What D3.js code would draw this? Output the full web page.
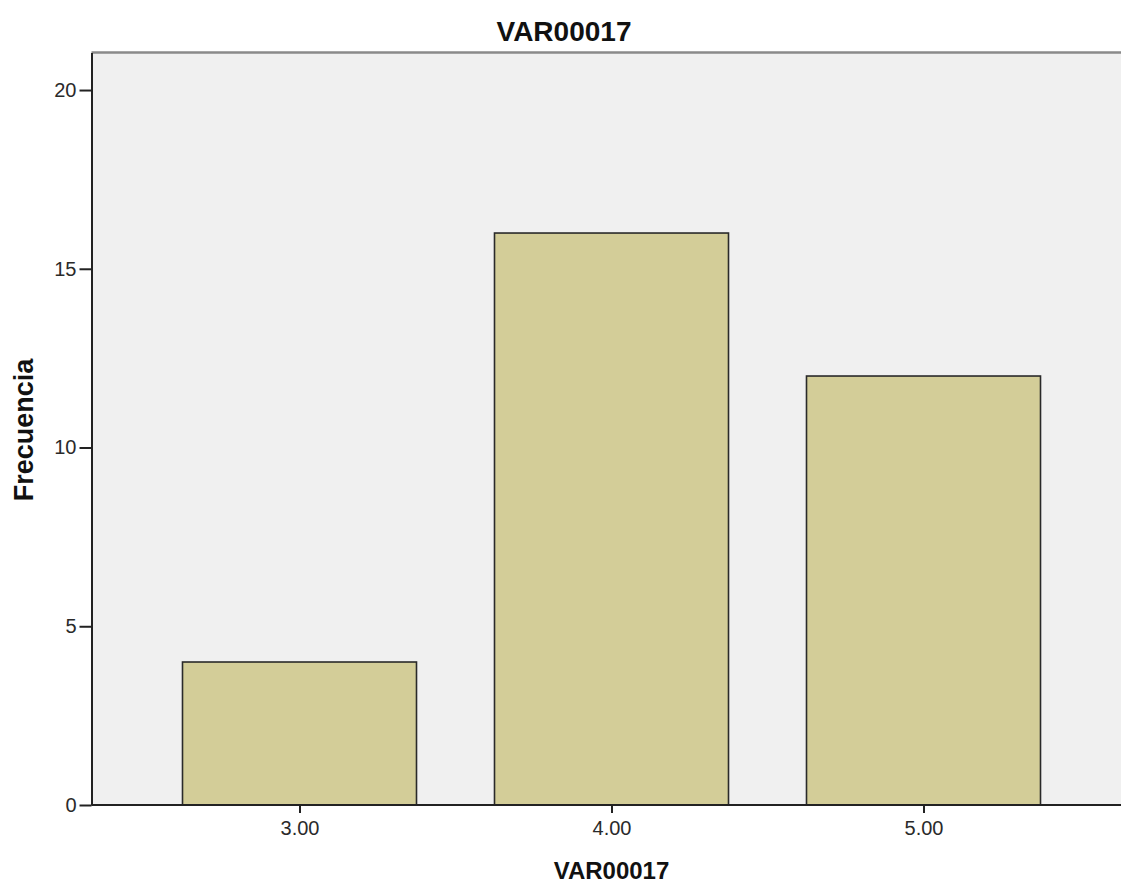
<!DOCTYPE html>
<html>
<head>
<meta charset="utf-8">
<script src="https://cdn.jsdelivr.net/npm/d3@7"></script>
<style>
  html, body { margin: 0; padding: 0; background: #fff; }
  svg { display: block; font-family: "Liberation Sans", Arial, sans-serif; }
</style>
</head>
<body>
<svg id="chart" width="1121" height="884"></svg>
<script>
const categories = [3, 4, 5];
const categoryLabels = ["3.00", "4.00", "5.00"];
const frequencies = [4, 16, 12];
const yTicks = [0, 5, 10, 15, 20];
const chartTitle = "VAR00017";
const xTitle = "VAR00017";
const yTitle = "Frecuencia";

(function () {
const svg = d3.select("#chart");
const W = 1121, H = 884;
const pLeft = 91.5, pTop = 52.5, pRight = 1131.5, pBottom = 805;

const x = d3.scaleLinear().domain([2 + 1/3, 5 + 2/3]).range([pLeft, pRight]);
const y = d3.scaleLinear().domain([0, 21.05]).range([pBottom, pTop]);
const barW = x(3.75) - x(3);

svg.append("rect")
  .attr("x", pLeft).attr("y", pTop)
  .attr("width", pRight - pLeft).attr("height", pBottom - pTop)
  .attr("fill", "#f0f0f0");

svg.append("line")
  .attr("x1", pLeft).attr("x2", W)
  .attr("y1", pTop).attr("y2", pTop)
  .attr("stroke", "#8a8a8a").attr("stroke-width", 2.5);

svg.selectAll("rect.bar")
  .data(categories)
  .enter().append("rect")
  .attr("class", "bar")
  .attr("x", (d) => x(d) - barW / 2)
  .attr("y", (d, i) => y(frequencies[i]))
  .attr("width", barW)
  .attr("height", (d, i) => y(0) - y(frequencies[i]))
  .attr("fill", "#d3cd98")
  .attr("stroke", "#2a2a2a")
  .attr("stroke-width", 1.6);

const yAxis = d3.axisLeft(y).tickValues(yTicks).tickSizeInner(12).tickSizeOuter(0)
  .tickPadding(3).tickFormat(d3.format("d"));
const gy = svg.append("g").attr("transform", `translate(${pLeft},0)`).call(yAxis);
gy.select(".domain").attr("stroke", "#222").attr("stroke-width", 2);
gy.selectAll(".tick line").attr("stroke", "#222").attr("stroke-width", 2);
gy.selectAll(".tick text").attr("font-size", 20).attr("fill", "#2a2a2a")
  .attr("font-family", "\"Liberation Sans\", Arial, sans-serif");

const xAxis = d3.axisBottom(x).tickValues(categories).tickSizeInner(8).tickSizeOuter(0).tickPadding(8)
  .tickFormat((d, i) => categoryLabels[i]);
const gx = svg.append("g").attr("transform", `translate(0,${pBottom})`).call(xAxis);
gx.select(".domain").attr("stroke", "#222").attr("stroke-width", 2)
  .attr("d", `M${pLeft},0H${pRight}`);
gx.selectAll(".tick line").attr("stroke", "#222").attr("stroke-width", 2);
gx.selectAll(".tick text").attr("font-size", 20).attr("fill", "#2a2a2a")
  .attr("font-family", "\"Liberation Sans\", Arial, sans-serif");

svg.append("text")
  .attr("x", 564).attr("y", 41)
  .attr("text-anchor", "middle")
  .attr("font-size", 28).attr("font-weight", "bold").attr("fill", "#111")
  .text(chartTitle);

svg.append("text")
  .attr("x", (pLeft + pRight) / 2).attr("y", 879)
  .attr("text-anchor", "middle")
  .attr("font-size", 24).attr("font-weight", "bold").attr("fill", "#111")
  .text(xTitle);

svg.append("text")
  .attr("transform", `translate(33,430) rotate(-90)`)
  .attr("text-anchor", "middle")
  .attr("font-size", 27).attr("font-weight", "bold").attr("fill", "#111")
  .text(yTitle);
})();
</script>
</body>
</html>
